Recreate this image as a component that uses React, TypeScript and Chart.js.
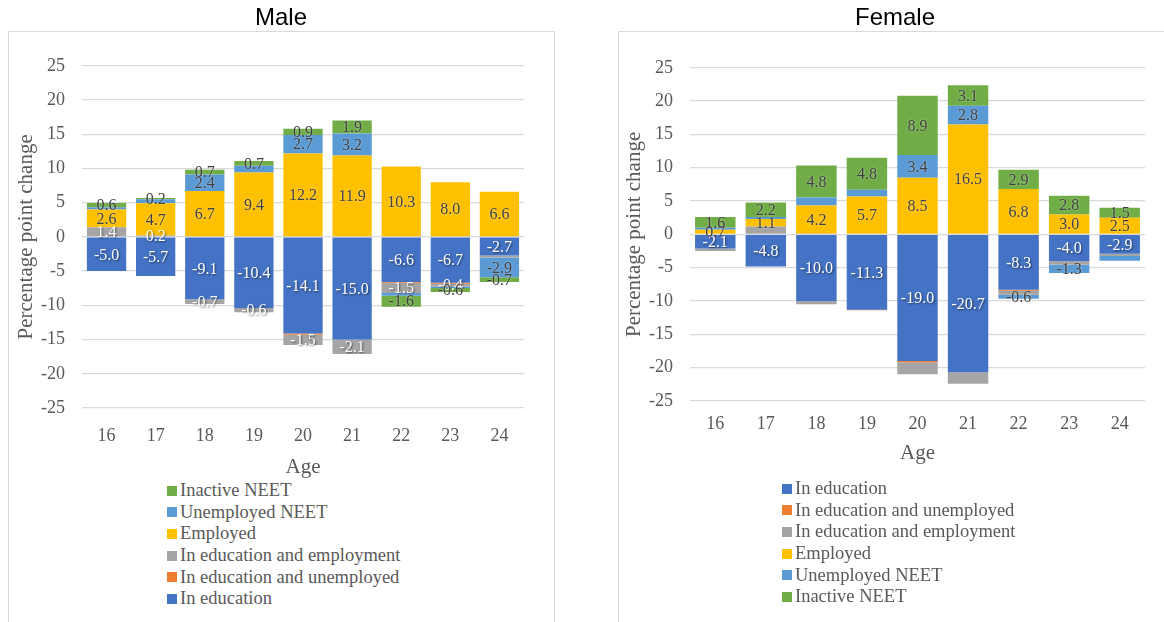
import React, { useEffect, useRef } from 'react';
import { Chart, registerables } from 'chart.js';

Chart.register(...registerables);

// ---------- data ----------
const ages = ['16', '17', '18', '19', '20', '21', '22', '23', '24'];

const seriesNames = [
  'In education',
  'In education and unemployed',
  'In education and employment',
  'Employed',
  'Unemployed NEET',
  'Inactive NEET',
];
const seriesColors = ['#4472C4', '#ED7D31', '#A5A5A5', '#FFC000', '#5B9BD5', '#70AD47'];
const labelColors = ['#FFFFFF', '#404040', '#FFFFFF', '#404040', '#404040', '#404040'];

const yTicks = [-25, -20, -15, -10, -5, 0, 5, 10, 15, 20, 25];

// Male
const maleInEducation = [-5.0, -5.7, -9.1, -10.4, -14.1, -15.0, -6.6, -6.7, -2.7];
const maleEduUnemployed = [0, 0, 0, 0, -0.2, 0, -0.1, -0.15, 0];
const maleEduEmployment = [1.4, 0.2, -0.7, -0.6, -1.5, -2.1, -1.5, -0.4, -0.3];
const maleEmployed = [2.6, 4.7, 6.7, 9.4, 12.2, 11.9, 10.3, 8.0, 6.6];
const maleUnemployedNeet = [0.35, 0.6, 2.4, 1.0, 2.7, 3.2, -0.4, -0.2, -2.9];
const maleInactiveNeet = [0.6, 0.2, 0.7, 0.7, 0.9, 1.9, -1.6, -0.6, -0.7];

const maleShowInEducation = [1, 1, 1, 1, 1, 1, 1, 1, 1];
const maleShowEduUnemployed = [0, 0, 0, 0, 0, 0, 0, 0, 0];
const maleShowEduEmployment = [1, 1, 1, 1, 1, 1, 1, 1, 0];
const maleShowEmployed = [1, 1, 1, 1, 1, 1, 1, 1, 1];
const maleShowUnemployedNeet = [0, 0, 1, 0, 1, 1, 0, 0, 1];
const maleShowInactiveNeet = [1, 1, 1, 1, 1, 1, 1, 1, 1];

// Female
const femInEducation = [-2.1, -4.8, -10.0, -11.3, -19.0, -20.7, -8.3, -4.0, -2.9];
const femEduUnemployed = [0, 0, 0.15, -0.1, -0.2, 0, -0.15, 0, 0];
const femEduEmployment = [-0.4, 1.2, -0.5, 0, -1.8, -1.7, -0.6, -0.5, -0.35];
const femEmployed = [0.7, 1.1, 4.2, 5.7, 8.5, 16.5, 6.8, 3.0, 2.5];
const femUnemployedNeet = [0.3, 0.3, 1.2, 1.0, 3.4, 2.8, -0.6, -1.3, -0.7];
const femInactiveNeet = [1.6, 2.2, 4.8, 4.8, 8.9, 3.1, 2.9, 2.8, 1.5];

const femShowInEducation = [1, 1, 1, 1, 1, 1, 1, 1, 1];
const femShowEduUnemployed = [0, 0, 0, 0, 0, 0, 0, 0, 0];
const femShowEduEmployment = [0, 0, 0, 0, 0, 0, 0, 0, 0];
const femShowEmployed = [1, 1, 1, 1, 1, 1, 1, 1, 1];
const femShowUnemployedNeet = [0, 0, 0, 0, 1, 1, 1, 1, 0];
const femShowInactiveNeet = [1, 1, 1, 1, 1, 1, 1, 1, 1];

const maleSeries = [maleInEducation, maleEduUnemployed, maleEduEmployment, maleEmployed, maleUnemployedNeet, maleInactiveNeet];
const maleShow = [maleShowInEducation, maleShowEduUnemployed, maleShowEduEmployment, maleShowEmployed, maleShowUnemployedNeet, maleShowInactiveNeet];
const femSeries = [femInEducation, femEduUnemployed, femEduEmployment, femEmployed, femUnemployedNeet, femInactiveNeet];
const femShow = [femShowInEducation, femShowEduUnemployed, femShowEduEmployment, femShowEmployed, femShowUnemployedNeet, femShowInactiveNeet];

// ---------- style ----------
const SERIF = "'Liberation Serif', 'Times New Roman', serif";
const SANS = "'Liberation Sans', Arial, sans-serif";
const TEXT = '#595959';
const GRID = '#d9d9d9';

const segLabels = {
  id: 'segLabels',
  afterDatasetsDraw(chart: any) {
    const ctx = chart.ctx;
    ctx.save();
    ctx.font = `16px ${SERIF}`;
    ctx.textAlign = 'center';
    ctx.textBaseline = 'middle';
    chart.data.datasets.forEach((ds: any, di: number) => {
      const meta = chart.getDatasetMeta(di);
      meta.data.forEach((el: any, i: number) => {
        if (!ds.showLabels || !ds.showLabels[i]) return;
        const v = ds.data[i];
        const p = el.getCenterPoint();
        const white = ds.labelColor === '#FFFFFF';
        if (white) {
          ctx.shadowColor = 'rgba(0,0,0,0.55)';
          ctx.shadowBlur = 2;
          ctx.shadowOffsetX = 1;
          ctx.shadowOffsetY = 1;
        } else {
          ctx.shadowColor = 'rgba(255,255,255,0.6)';
          ctx.shadowBlur = 2;
          ctx.shadowOffsetX = 0;
          ctx.shadowOffsetY = 0;
        }
        ctx.fillStyle = ds.labelColor;
        ctx.fillText(v.toFixed(1), p.x, p.y + 1);
      });
    });
    ctx.restore();
  },
};

type PanelCfg = {
  title: string;
  series: number[][];
  show: number[][];
  left: number;
  width: number;
  height: number;
  yAxisWidth: number;
  rightWidth: number;
  yTitlePad: number;
  xAxisHeight: number;
  xTickPad: number;
  xTitlePad: number;
  titlePadBottom: number;
};

function Panel({ cfg }: { cfg: PanelCfg }) {
  const ref = useRef<HTMLCanvasElement | null>(null);
  useEffect(() => {
    if (!ref.current) return;
    const chart = new Chart(ref.current, {
      type: 'bar',
      data: {
        labels: ages,
        datasets: cfg.series.map((d, i) => ({
          label: seriesNames[i],
          data: d,
          backgroundColor: seriesColors[i],
          borderWidth: 0,
          stack: 's',
          barPercentage: 0.8,
          categoryPercentage: 1.0,
          showLabels: cfg.show[i],
          labelColor: labelColors[i],
        })) as any,
      },
      options: {
        responsive: false,
        animation: false,
        devicePixelRatio: 1,
        layout: { padding: 0 },
        plugins: {
          legend: { display: false },
          tooltip: { enabled: false },
          title: {
            display: true,
            text: cfg.title,
            color: '#000000',
            font: { family: SANS, size: 24, weight: 'normal' },
            padding: { top: 4, bottom: cfg.titlePadBottom },
          },
        },
        scales: {
          x: {
            stacked: true,
            grid: { display: false },
            border: { display: false },
            ticks: { color: TEXT, font: { family: SERIF, size: 18 }, padding: cfg.xTickPad },
            title: {
              display: true,
              text: 'Age',
              color: TEXT,
              font: { family: SERIF, size: 21 },
              padding: { top: 0, bottom: cfg.xTitlePad },
            },
            afterFit: (s: any) => { s.height = cfg.xAxisHeight; },
          },
          y: {
            stacked: true,
            min: -25,
            max: 25,
            afterBuildTicks: (s: any) => { s.ticks = yTicks.map((v) => ({ value: v })); },
            grid: { color: GRID, lineWidth: 1.3, drawTicks: false },
            border: { display: false },
            ticks: { color: TEXT, font: { family: SERIF, size: 18 }, padding: 17 },
            title: {
              display: true,
              text: 'Percentage point change',
              color: TEXT,
              font: { family: SERIF, size: 21 },
              padding: { top: cfg.yTitlePad, bottom: 0 },
            },
            afterFit: (s: any) => { s.width = cfg.yAxisWidth; },
          },
          yRight: {
            position: 'right',
            display: true,
            min: -25,
            max: 25,
            grid: { display: false },
            border: { display: false },
            ticks: { display: false },
            afterFit: (s: any) => { s.width = cfg.rightWidth; },
          },
        },
      } as any,
      plugins: [segLabels],
    });
    return () => chart.destroy();
  }, [cfg]);
  return (
    <canvas
      ref={ref}
      width={cfg.width}
      height={cfg.height}
      style={{ position: 'absolute', left: cfg.left, top: 0, width: cfg.width, height: cfg.height }}
    />
  );
}

const maleCfg: PanelCfg = {
  title: 'Male',
  series: maleSeries,
  show: maleShow,
  left: 0,
  width: 562,
  height: 480,
  yAxisWidth: 82,
  rightWidth: 38,
  yTitlePad: 14,
  xAxisHeight: 72,
  xTickPad: 9,
  xTitlePad: 0,
  titlePadBottom: 33,
};

const femCfg: PanelCfg = {
  title: 'Female',
  series: femSeries,
  show: femShow,
  left: 600,
  width: 590,
  height: 480,
  yAxisWidth: 90,
  rightWidth: 45,
  yTitlePad: 22,
  xAxisHeight: 79,
  xTickPad: 4,
  xTitlePad: 14,
  titlePadBottom: 35,
};

function Legend({ order, left, top }: { order: number[]; left: number; top: number }) {
  return (
    <div style={{ position: 'absolute', left, top }}>
      {order.map((si, k) => (
        <div
          key={si}
          style={{
            position: 'absolute',
            left: 0,
            top: k * 21.6,
            height: 21.6,
            display: 'flex',
            alignItems: 'center',
            whiteSpace: 'nowrap',
            fontFamily: SERIF,
            fontSize: 18.5,
            color: TEXT,
          }}
        >
          <span style={{ display: 'inline-block', width: 10, height: 10, background: seriesColors[si], marginRight: 3 }} />
          <span>{seriesNames[si]}</span>
        </div>
      ))}
    </div>
  );
}

export default function App() {
  return (
    <div style={{ position: 'absolute', left: 0, top: 0, width: 1164, height: 622, overflow: 'hidden', background: '#fff' }}>
      <div style={{ position: 'absolute', left: 8, top: 31, width: 545, height: 620, border: '1px solid #d9d9d9' }} />
      <div style={{ position: 'absolute', left: 618, top: 31, width: 600, height: 620, border: '1px solid #d9d9d9' }} />
      <Panel cfg={maleCfg} />
      <Panel cfg={femCfg} />
      <Legend order={[5, 4, 3, 2, 1, 0]} left={167} top={480} />
      <Legend order={[0, 1, 2, 3, 4, 5]} left={782} top={478} />
    </div>
  );
}
